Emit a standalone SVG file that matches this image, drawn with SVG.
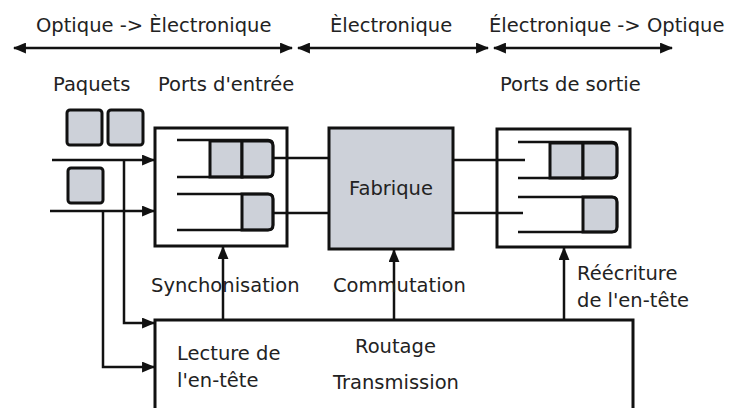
<svg xmlns="http://www.w3.org/2000/svg" width="730" height="408" viewBox="0 0 730 408">
<defs>
<marker id="ah" viewBox="0 0 12 10" refX="11" refY="5" markerWidth="13" markerHeight="11" markerUnits="userSpaceOnUse" orient="auto-start-reverse"><path d="M0,0 L12,5 L0,10 Z" fill="#111"/></marker>
</defs>
<style>
text{font-family:"DejaVu Sans",Verdana,sans-serif;font-size:19.5px;fill:#222}
.ln{stroke:#111;stroke-width:2.5;fill:none}
.box{fill:#fff;stroke:#111;stroke-width:3}
.pk{fill:#cdd1d9;stroke:#111;stroke-width:3}
.q{stroke:#111;stroke-width:2.5;fill:none}
</style>
<g id="labels">
<text x="36" y="32">Optique -&gt; Èlectronique</text>
<text x="330" y="32">Èlectronique</text>
<text x="489" y="32">Électronique -&gt; Optique</text>
<text x="53" y="91">Paquets</text>
<text x="158" y="91">Ports d'entrée</text>
<text x="500" y="91">Ports de sortie</text>
</g>
<g id="packets">
<rect class="pk" x="67" y="110" width="35" height="35" rx="3"/>
<rect class="pk" x="108" y="110" width="35" height="35" rx="3"/>
<rect class="pk" x="68" y="168" width="35" height="35" rx="3"/>
</g>
<g id="input-ports">
<rect class="box" x="155" y="128" width="132" height="118"/>
<rect class="pk" x="210" y="141" width="32" height="36"/>
<path class="pk" d="M242,141 H268 Q273,141 273,146 V172 Q273,177 268,177 H242 Z"/>
<path class="q" d="M177,140 H268 Q273,140 273,145 V172 Q273,177 268,177 H177"/>
<path class="pk" d="M242,194 H268 Q273,194 273,199 V225 Q273,230 268,230 H242 Z"/>
<path class="q" d="M177,194 H268 Q273,194 273,199 V225 Q273,230 268,230 H177"/>
</g>
<g id="fabrique">
<rect class="pk" x="329" y="128" width="124" height="121"/>
<text x="391" y="195" text-anchor="middle">Fabrique</text>
</g>
<g id="output-ports">
<rect class="box" x="497" y="129" width="133" height="118"/>
<rect class="pk" x="550" y="143" width="33" height="35"/>
<path class="pk" d="M583,143 H612 Q617,143 617,148 V173 Q617,178 612,178 H583 Z"/>
<path class="q" d="M518,142 H612 Q617,142 617,147 V173 Q617,178 612,178 H518"/>
<path class="pk" d="M583,197 H612 Q617,197 617,202 V227 Q617,232 612,232 H583 Z"/>
<path class="q" d="M518,197 H612 Q617,197 617,202 V227 Q617,232 612,232 H518"/>
</g>
<g id="controle">
<rect class="box" x="155" y="320" width="478" height="100"/>
<text x="177" y="360">Lecture de</text>
<text x="177" y="387">l'en-tête</text>
<text x="355" y="353">Routage</text>
<text x="333" y="389">Transmission</text>
</g>
<g id="connectors">
<path class="ln" d="M14,48 H292" marker-start="url(#ah)" marker-end="url(#ah)"/>
<path class="ln" d="M298,48 H488" marker-start="url(#ah)" marker-end="url(#ah)"/>
<path class="ln" d="M494,48 H672" marker-start="url(#ah)" marker-end="url(#ah)"/>
<path class="ln" d="M52,160 H154" marker-end="url(#ah)"/>
<path class="ln" d="M50,211 H154" marker-end="url(#ah)"/>
<path class="ln" d="M124,160 V323 H154" marker-end="url(#ah)"/>
<path class="ln" d="M103,211 V367 H154" marker-end="url(#ah)"/>
<path class="ln" d="M273,158 H329"/>
<path class="ln" d="M273,213 H329"/>
<path class="ln" d="M453,160 H525"/>
<path class="ln" d="M453,213 H523"/>
<path class="ln" d="M223,320 V247" marker-end="url(#ah)"/>
<path class="ln" d="M394,320 V250" marker-end="url(#ah)"/>
<path class="ln" d="M564,320 V248" marker-end="url(#ah)"/>
<text x="151" y="292">Synchonisation</text>
<text x="333" y="292">Commutation</text>
<text x="577" y="280">Réécriture</text>
<text x="577" y="307">de l'en-tête</text>
</g>
</svg>
